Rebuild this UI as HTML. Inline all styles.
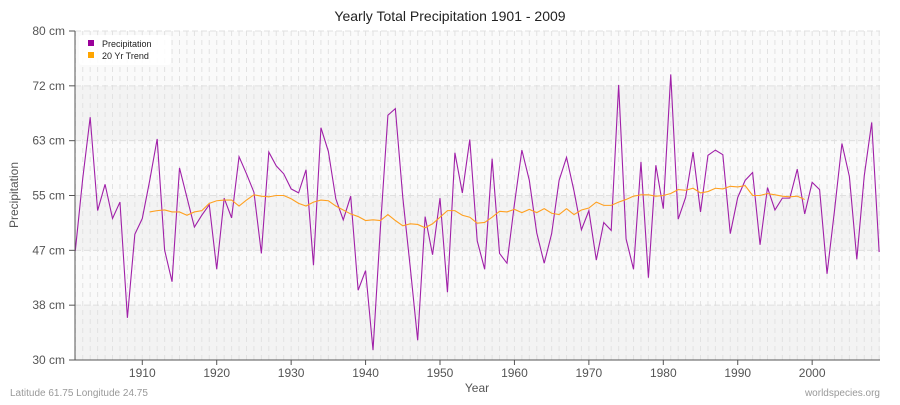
<!DOCTYPE html>
<html><head><meta charset="utf-8"><style>
body{margin:0;background:#fff;font-family:"Liberation Sans",sans-serif}
svg text{font-family:"Liberation Sans",sans-serif}
</style></head><body>
<svg id="c" width="900" height="400" xmlns="http://www.w3.org/2000/svg">
<text x="450" y="21" text-anchor="middle" font-size="14" fill="#222">Yearly Total Precipitation 1901 - 2009</text>
<g id="bands"></g><g id="vgrid"></g><g id="hgrid"></g>
<g id="series"></g>
<line x1="75" y1="31" x2="75" y2="360" stroke="#555"/>
<line x1="75" y1="360" x2="880" y2="360" stroke="#555"/>
<g id="yticks"></g><g id="xticks"></g>
<text transform="translate(18,195) rotate(-90)" text-anchor="middle" font-size="12" fill="#555">Precipitation</text>
<text x="477" y="392" text-anchor="middle" font-size="12" fill="#555">Year</text>
<text x="10" y="396" font-size="10" fill="#999">Latitude 61.75 Longitude 24.75</text>
<text x="880" y="396" text-anchor="end" font-size="10" fill="#999">worldspecies.org</text>
<g>
<rect x="79" y="35" width="92" height="30" rx="3" fill="#fff" opacity="0.9"/>
<rect x="88" y="40" width="6" height="6" fill="#990099"/>
<text x="102" y="47" font-size="9" fill="#222">Precipitation</text>
<rect x="88" y="52" width="6" height="6" fill="#ffa500"/>
<text x="102" y="59" font-size="9" fill="#222">20 Yr Trend</text>
</g>
</svg>
<script>
const startYear=1901;
const precip=[46.6,57.6,66.9,52.7,56.7,51.5,54.0,36.4,49.1,51.5,57.3,63.6,46.7,41.9,59.2,54.7,50.2,52.0,53.6,43.8,54.6,51.6,60.9,58.3,55.5,46.2,61.6,59.5,58.3,56.0,55.4,58.9,44.4,65.3,61.7,54.5,51.3,54.9,40.6,43.6,31.5,50.2,67.2,68.2,54.7,44.1,33.0,51.8,46.0,54.6,40.3,61.5,55.4,63.5,48.1,43.8,60.6,46.2,44.7,53.7,61.9,57.3,49.3,44.7,49.2,57.3,60.8,55.7,49.8,52.7,45.2,50.9,49.7,71.8,48.4,43.8,60.1,42.5,59.6,53.0,73.4,51.4,54.7,61.6,52.5,61.1,61.9,61.2,49.2,54.7,57.3,58.5,47.5,56.2,52.8,54.6,54.6,59.0,52.2,57.0,55.9,43.1,52.7,62.9,57.9,45.3,58.0,66.1,46.4];
const trendStart=1911;
const trend=[52.5,52.7,52.8,52.5,52.5,52.0,52.5,52.7,53.8,54.2,54.3,54.3,53.4,54.3,55.1,54.9,54.8,55.0,55.0,54.5,53.8,53.4,54.0,54.3,54.2,53.4,52.8,52.2,51.8,51.2,51.3,51.2,52.1,51.2,50.4,50.7,50.6,50.1,50.7,51.7,52.7,52.7,52.0,51.7,50.8,50.9,51.7,52.6,52.5,52.9,52.4,52.9,52.4,53.0,52.3,52.1,53.0,52.1,52.8,53.1,54.0,53.5,53.5,54.0,54.4,54.9,55.1,55.1,54.9,55.0,55.3,55.9,55.8,56.1,55.4,55.6,56.1,56.0,56.4,56.3,56.5,55.0,55.0,55.3,55.1,54.9,54.8,54.9,54.4];
const yTickVals=[30,38.333,46.667,55,63.333,71.667,80];
const yTickLabels=["30 cm","38 cm","47 cm","55 cm","63 cm","72 cm","80 cm"];
const xTickYears=[1910,1920,1930,1940,1950,1960,1970,1980,1990,2000];
const NS="http://www.w3.org/2000/svg";
function X(yr){return 75.3+(yr-1901)*7.443;}
function Y(v){return 360-(v-30)*6.58;}
function mk(t,a,p){const e=document.createElementNS(NS,t);for(const k in a)e.setAttribute(k,a[k]);p.appendChild(e);return e;}
const bands=document.getElementById('bands');
for(let i=0;i<6;i++){
 const r=mk('rect',{x:75,y:Y(yTickVals[i+1]),width:805,height:Y(yTickVals[i])-Y(yTickVals[i+1]),fill:i%2==0?'#f3f3f3':'#fafafa'},bands);
 
 
}
const vg=document.getElementById('vgrid');
for(let yr=1901;yr<=2009;yr++){
 const l=mk('line',{x1:X(yr),x2:X(yr),y1:31,y2:360,stroke:'#e2e2e2','stroke-dasharray':'5,4','stroke-width':1},vg);
 
 
}
const hg=document.getElementById('hgrid'),yt=document.getElementById('yticks');
yTickVals.forEach((v,i)=>{
 const l=mk('line',{x1:75,x2:880,y1:Y(v),y2:Y(v),stroke:'#e0e0e0','stroke-dasharray':'6,3'},hg);
 
 
 const tk=mk('line',{x1:69,x2:75,y1:Y(v),y2:Y(v),stroke:'#555'},yt);
 
 
 const t=mk('text',{x:65,y:Y(v)+4,'text-anchor':'end','font-size':12,fill:'#555'},yt);
 t.textContent=yTickLabels[i];
 
 
});
const xt=document.getElementById('xticks');
xTickYears.forEach(yr=>{
 const tk=mk('line',{x1:X(yr),x2:X(yr),y1:360,y2:365,stroke:'#555'},xt);
 
 
 const t=mk('text',{x:X(yr),y:377,'text-anchor':'middle','font-size':12,fill:'#555'},xt);
 t.textContent=yr;
 
 
});
const s=document.getElementById('series');
const p1=mk('polyline',{points:precip.map((v,i)=>X(startYear+i)+','+Y(v)).join(' '),fill:'none',stroke:'#a020a8','stroke-width':1.1},s);


const p2=mk('polyline',{points:trend.map((v,i)=>X(trendStart+i)+','+Y(v)).join(' '),fill:'none',stroke:'#ffa020','stroke-width':1.1},s);


</script>
</body></html>
